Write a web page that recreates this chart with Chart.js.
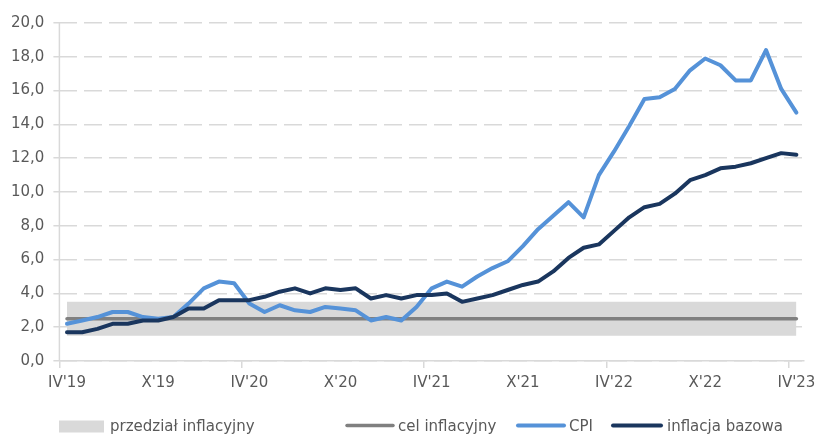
<!DOCTYPE html>
<html lang="pl">
<head>
<meta charset="utf-8">
<title>Inflacja CPI i bazowa</title>
<script src="https://cdn.jsdelivr.net/npm/chart.js@4/dist/chart.umd.min.js"></script>
<style>
  html, body { margin: 0; padding: 0; background: #ffffff; }
  #wrap { width: 817px; height: 434px; position: relative; }
</style>
</head>
<body>
<div id="wrap"><canvas id="chart" width="817" height="434"></canvas></div>
<script>
// Miesiące: IV 2019 – IV 2023
const categories = [
  "IV'19","V'19","VI'19","VII'19","VIII'19","IX'19","X'19","XI'19","XII'19",
  "I'20","II'20","III'20","IV'20","V'20","VI'20","VII'20","VIII'20","IX'20","X'20","XI'20","XII'20",
  "I'21","II'21","III'21","IV'21","V'21","VI'21","VII'21","VIII'21","IX'21","X'21","XI'21","XII'21",
  "I'22","II'22","III'22","IV'22","V'22","VI'22","VII'22","VIII'22","IX'22","X'22","XI'22","XII'22",
  "I'23","II'23","III'23","IV'23"
];

// CPI r/r (%)
const cpi = [
  2.2, 2.4, 2.6, 2.9, 2.9, 2.6, 2.5, 2.6, 3.4,
  4.3, 4.7, 4.6, 3.4, 2.9, 3.3, 3.0, 2.9, 3.2, 3.1, 3.0, 2.4,
  2.6, 2.4, 3.2, 4.3, 4.7, 4.4, 5.0, 5.5, 5.9, 6.8, 7.8, 8.6,
  9.4, 8.5, 11.0, 12.4, 13.9, 15.5, 15.6, 16.1, 17.2, 17.9, 17.5, 16.6,
  16.6, 18.4, 16.1, 14.7
];

// Inflacja bazowa (bez cen żywności i energii), r/r (%)
const coreInflation = [
  1.7, 1.7, 1.9, 2.2, 2.2, 2.4, 2.4, 2.6, 3.1,
  3.1, 3.6, 3.6, 3.6, 3.8, 4.1, 4.3, 4.0, 4.3, 4.2, 4.3, 3.7,
  3.9, 3.7, 3.9, 3.9, 4.0, 3.5, 3.7, 3.9, 4.2, 4.5, 4.7, 5.3,
  6.1, 6.7, 6.9, 7.7, 8.5, 9.1, 9.3, 9.9, 10.7, 11.0, 11.4, 11.5,
  11.7, 12.0, 12.3, 12.2
];

// Cel inflacyjny NBP i przedział odchyleń
const targetLevel = 2.5;
const bandLower = 1.5;
const bandUpper = 3.5;

// Oś Y
const yMin = 0;
const yMax = 20;
const yStep = 2;

const seriesNames = {
  band: 'przedział inflacyjny',
  target: 'cel inflacyjny',
  cpi: 'CPI',
  core: 'inflacja bazowa'
};

const TEXT = '#595959';
const GRID = '#d9d9d9';

Chart.defaults.font.family = "'DejaVu Sans', sans-serif";
Chart.defaults.font.size = 15;
Chart.defaults.color = TEXT;

// Legenda rysowana pod wykresem
const bottomLegend = {
  id: 'bottomLegend',
  afterDraw(chart, args, opts) {
    const ctx = chart.ctx;
    ctx.save();
    ctx.font = "15px 'DejaVu Sans', sans-serif";
    ctx.textBaseline = 'alphabetic';
    ctx.textAlign = 'left';
    opts.items.forEach(item => {
      const ds = chart.data.datasets[item.dataset];
      if (item.kind === 'box') {
        ctx.fillStyle = ds.backgroundColor;
        ctx.fillRect(item.x, opts.lineY - 5, item.w, 12);
      } else {
        ctx.strokeStyle = ds.borderColor;
        ctx.lineWidth = ds.borderWidth;
        ctx.lineCap = 'round';
        ctx.beginPath();
        ctx.moveTo(item.x + 2, opts.lineY);
        ctx.lineTo(item.x + item.w - 2, opts.lineY);
        ctx.stroke();
      }
      ctx.fillStyle = TEXT;
      ctx.fillText(ds.label, item.x + item.w + item.gap, opts.baseline);
    });
    ctx.restore();
  }
};

// Pionowa linia osi Y rysowana ciągłą kreską (linie siatki są przerywane)
const solidYAxisLine = {
  id: 'solidYAxisLine',
  beforeDatasetsDraw(chart) {
    const { ctx, chartArea } = chart;
    const x = chart.scales.y.right;
    ctx.save();
    ctx.strokeStyle = GRID;
    ctx.lineWidth = 1.5;
    ctx.setLineDash([]);
    ctx.beginPath();
    ctx.moveTo(x, chartArea.top);
    ctx.lineTo(x, chartArea.bottom);
    ctx.stroke();
    ctx.restore();
  }
};

const ctx = document.getElementById('chart').getContext('2d');

new Chart(ctx, {
  type: 'line',
  data: {
    labels: categories,
    datasets: [
      {
        label: 'dolna granica',
        data: categories.map(() => bandLower),
        borderWidth: 0,
        borderColor: 'rgba(0,0,0,0)',
        pointRadius: 0,
        fill: false,
        order: 6
      },
      {
        label: seriesNames.band,
        data: categories.map(() => bandUpper),
        borderWidth: 0,
        borderColor: 'rgba(0,0,0,0)',
        backgroundColor: '#d9d9d9',
        pointRadius: 0,
        fill: '-1',
        order: 5
      },
      {
        label: seriesNames.target,
        data: categories.map(() => targetLevel),
        borderColor: '#808080',
        borderWidth: 3.5,
        borderCapStyle: 'round',
        pointRadius: 0,
        fill: false,
        order: 3
      },
      {
        label: seriesNames.cpi,
        data: cpi,
        borderColor: '#5592d8',
        borderWidth: 4,
        borderCapStyle: 'round',
        borderJoinStyle: 'round',
        pointRadius: 0,
        tension: 0,
        fill: false,
        order: 2
      },
      {
        label: seriesNames.core,
        data: coreInflation,
        borderColor: '#1a365e',
        borderWidth: 4,
        borderCapStyle: 'round',
        borderJoinStyle: 'round',
        pointRadius: 0,
        tension: 0,
        fill: false,
        order: 1
      }
    ]
  },
  options: {
    responsive: false,
    animation: false,
    events: [],
    layout: { padding: { top: 23, right: 13, bottom: 0, left: 0 } },
    scales: {
      x: {
        type: 'category',
        offset: true,
        grid: {
          offset: true,
          drawOnChartArea: false,
          drawTicks: true,
          tickLength: 7,
          lineWidth: 1.5,
          color: c => (c.index !== undefined && c.index % 12 === 0) ? GRID : 'rgba(0,0,0,0)'
        },
        border: { display: true, color: GRID, width: 1.5 },
        ticks: {
          autoSkip: false,
          maxRotation: 0,
          minRotation: 0,
          padding: 6,
          color: TEXT,
          callback: (v, i) => (i % 6 === 0 ? categories[i] : '')
        },
        afterFit(scale) {
          scale.height = 73;
          scale.paddingLeft = 0;
          scale.paddingRight = 0;
        }
      },
      y: {
        min: yMin,
        max: yMax,
        grid: {
          color: GRID,
          lineWidth: 1.5,
          drawTicks: true,
          tickLength: 6,
          tickColor: GRID,
          tickBorderDash: []
        },
        border: { display: false, color: GRID, width: 1.5, dash: [18, 7] },
        ticks: {
          stepSize: yStep,
          padding: 9,
          color: TEXT,
          callback: v => v.toFixed(1).replace('.', ',')
        },
        afterFit(scale) {
          scale.width = 59.4;
        }
      }
    },
    plugins: {
      legend: { display: false },
      tooltip: { enabled: false },
      bottomLegend: {
        lineY: 425.5,
        baseline: 431,
        items: [
          { dataset: 1, kind: 'box', x: 59, w: 45, gap: 6 },
          { dataset: 2, kind: 'line', x: 345, w: 50, gap: 3 },
          { dataset: 3, kind: 'line', x: 516, w: 50, gap: 3 },
          { dataset: 4, kind: 'line', x: 611, w: 52, gap: 4 }
        ]
      }
    }
  },
  plugins: [bottomLegend, solidYAxisLine]
});
</script>
</body>
</html>
